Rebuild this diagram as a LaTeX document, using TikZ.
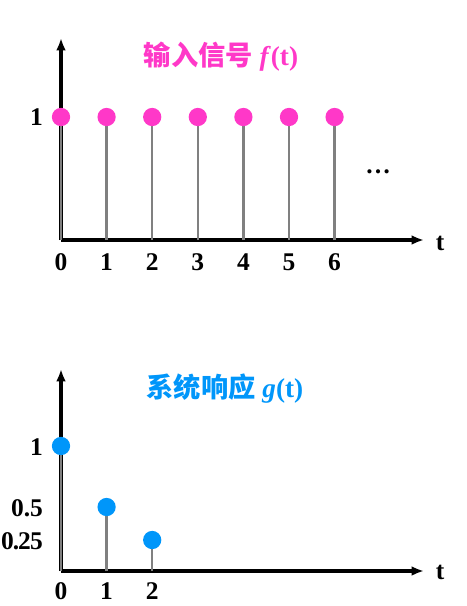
\documentclass[tikz,border=0pt]{standalone}
\usepackage{fontspec}
\setmainfont{Liberation Serif}
\newfontfamily\cjk{Noto Sans CJK SC}
\usepackage{tikz}
\usetikzlibrary{positioning,shapes,arrows,arrows.meta,backgrounds,calc}
\definecolor{inpink}{RGB}{255,56,200}
\definecolor{resblue}{RGB}{0,150,250}
\tikzstyle{axis} = [draw, line width=1.8pt, -{Latex[length=7pt,width=5.5pt]}]
\tikzstyle{stem} = [draw, line width=1.3pt, black!50]
\tikzstyle{dotf} = [circle, fill=inpink, inner sep=0pt, minimum size=10.4pt]
\tikzstyle{dotg} = [circle, fill=resblue, inner sep=0pt, minimum size=10.4pt]
\tikzstyle{num} = [font=\fontsize{14.5}{17}\selectfont\bfseries, inner sep=1pt]
\tikzstyle{title} = [font=\fontsize{15.5}{19}\selectfont\bfseries]

\begin{document}
\begin{tikzpicture}[x=0.02cm, y=-0.02cm]
   \useasboundingbox (0,0) rectangle (467,606);

   % INPUT f(t) %%%%%%%%%%%%%%%%%%%%%%%%%%%%%%%%%%%%%%%%%%%%%%%%%%
   \coordinate (O1) at (61,240);
   \coordinate (ytop1) at (61,38);
   \coordinate (xend1) at (424,240);
   \node[title, text=inpink] (ftitle) at (221,57) {{\cjk 输入信号} \textit{f}(t)};
   \node[num, anchor=east] (fone) at (45,117) {1};
   \node[num] (ft) at (440,243) {t};
   \node[num] (fdots) at (378,172) {\dots};

   \node[num] (fl0) at (61,262) {0};
   \node[num] (fl1) at (106.6,262) {1};
   \node[num] (fl2) at (152.2,262) {2};
   \node[num] (fl3) at (197.8,262) {3};
   \node[num] (fl4) at (243.4,262) {4};
   \node[num] (fl5) at (289,262) {5};
   \node[num] (fl6) at (334.6,262) {6};

   \coordinate (fb0) at (61,240);
   \coordinate (fb1) at (106.6,240);
   \coordinate (fb2) at (152.2,240);
   \coordinate (fb3) at (197.8,240);
   \coordinate (fb4) at (243.4,240);
   \coordinate (fb5) at (289,240);
   \coordinate (fb6) at (334.6,240);

   % Draw edges
   \path [axis] (O1) -- (ytop1);
   \path [axis] (O1) -- (xend1);
   \path [stem] (fb0) -- (61,117);
   \path [stem] (fb1) -- (106.6,117);
   \path [stem] (fb2) -- (152.2,117);
   \path [stem] (fb3) -- (197.8,117);
   \path [stem] (fb4) -- (243.4,117);
   \path [stem] (fb5) -- (289,117);
   \path [stem] (fb6) -- (334.6,117);

   \node[dotf] (f0) at (61,117) {};
   \node[dotf] (f1) at (106.6,117) {};
   \node[dotf] (f2) at (152.2,117) {};
   \node[dotf] (f3) at (197.8,117) {};
   \node[dotf] (f4) at (243.4,117) {};
   \node[dotf] (f5) at (289,117) {};
   \node[dotf] (f6) at (334.6,117) {};

   % RESPONSE g(t) %%%%%%%%%%%%%%%%%%%%%%%%%%%%%%%%%%%%%%%%%%%%%%%
   \coordinate (O2) at (61,571);
   \coordinate (ytop2) at (61,369);
   \coordinate (xend2) at (424,571);
   \node[title, text=resblue] (gtitle) at (225,389) {{\cjk 系统响应} \textit{g}(t)};
   \node[num, anchor=east] (gone) at (45,447) {1};
   \node[num, anchor=east] (ghalf) at (45,508) {0.5};
   \node[num, anchor=east] (gquart) at (45,541) {0\kern-0.6pt.\kern-0.6pt2\kern-0.4pt5};
   \node[num] (gt) at (440,572) {t};

   \node[num] (gl0) at (61,591) {0};
   \node[num] (gl1) at (106.6,591) {1};
   \node[num] (gl2) at (152.2,591) {2};

   \coordinate (gb0) at (61,571);
   \coordinate (gb1) at (106.6,571);
   \coordinate (gb2) at (152.2,571);

   \path [axis] (O2) -- (ytop2);
   \path [axis] (O2) -- (xend2);
   \path [stem] (gb0) -- (61,446);
   \path [stem] (gb1) -- (106.6,507);
   \path [stem] (gb2) -- (152.2,540);

   \node[dotg] (g0) at (61,446) {};
   \node[dotg] (g1) at (106.6,507) {};
   \node[dotg] (g2) at (152.2,540) {};
\end{tikzpicture}
\end{document}
